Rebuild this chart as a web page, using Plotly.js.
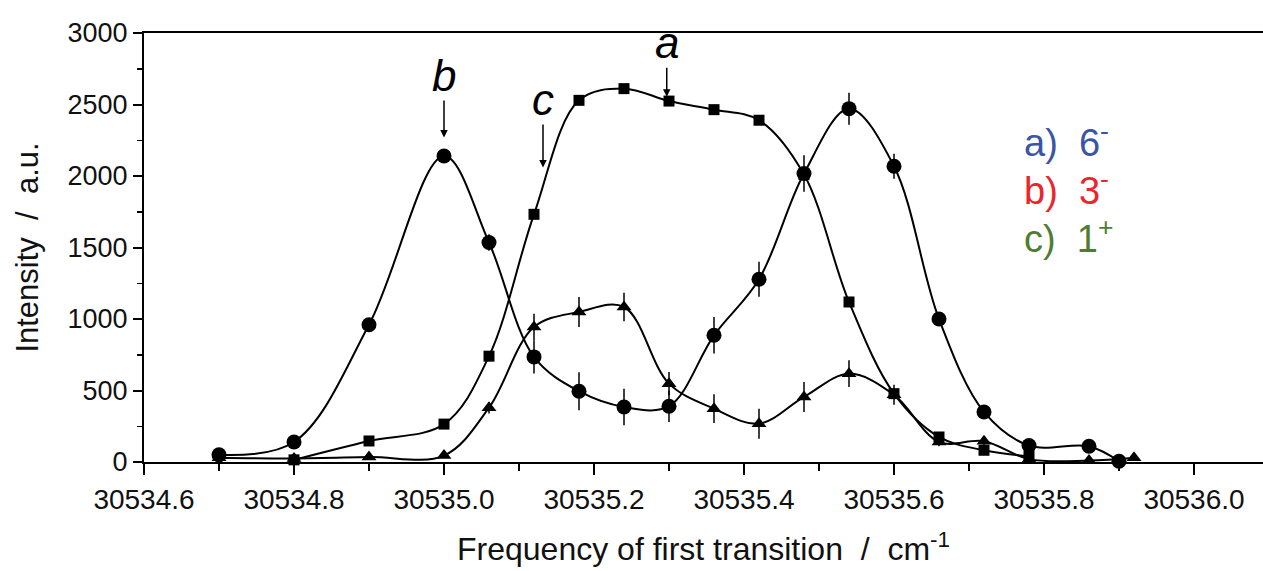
<!DOCTYPE html>
<html>
<head>
<meta charset="utf-8">
<script src="https://cdn.plot.ly/plotly-3.0.1.min.js"></script>
<style>html,body{margin:0;padding:0;background:#fff;}#chart{width:1263px;height:571px;}</style>
</head>
<body>
<div id="chart"></div>
<script>
// Series b) 3- : circles
const xCircle = [30534.7, 30534.8, 30534.9, 30535.0, 30535.06, 30535.12, 30535.18, 30535.24, 30535.30, 30535.36, 30535.42, 30535.48, 30535.54, 30535.60, 30535.66, 30535.72, 30535.78, 30535.86, 30535.90];
const yCircle = [50, 140, 960, 2140, 1535, 735, 495, 385, 390, 886, 1278, 2017, 2471, 2068, 1000, 350, 115, 110, 5];
const errCircle = [0, 0, 0, 40, 58, 116, 133, 128, 110, 128, 122, 128, 112, 87, 0, 0, 0, 0, 0];

// Series a) 6- : squares
const xSquare = [30534.8, 30534.9, 30535.0, 30535.06, 30535.12, 30535.18, 30535.24, 30535.30, 30535.36, 30535.42, 30535.48, 30535.54, 30535.60, 30535.66, 30535.72, 30535.78];
const ySquare = [15, 147, 265, 740, 1732, 2529, 2611, 2524, 2464, 2390, 2010, 1119, 478, 175, 82, 40];

// Series c) 1+ : triangles
const xTriangle = [30534.7, 30534.8, 30534.9, 30535.0, 30535.06, 30535.12, 30535.18, 30535.24, 30535.30, 30535.36, 30535.42, 30535.48, 30535.54, 30535.60, 30535.66, 30535.72, 30535.78, 30535.86, 30535.92];
const yTriangle = [30, 25, 35, 45, 380, 944, 1049, 1084, 548, 373, 268, 455, 618, 470, 140, 145, 20, 10, 30];
const errTriangle = [0, 0, 0, 0, 40, 93, 105, 100, 82, 100, 105, 105, 93, 70, 30, 30, 0, 0, 0];

// Labels
const xTitle = 'Frequency of first transition  /  cm<sup>-1</sup>';
const yTitle = 'Intensity  /  a.u.';
const legendLabels = ['a)  6<sup>-</sup>', 'b)  3<sup>-</sup>', 'c)  1<sup>+</sup>'];
const legendColors = ['#3b55a6', '#e8262b', '#4e7d31'];
const peakLabels = ['b', 'c', 'a'];
const peakX = [30535.0, 30535.132, 30535.297];
const peakY = [2270, 2060, 2555];

const FONT = 'Liberation Sans, Arial, sans-serif';

function series(x, y, err, symbol, size) {
  const t = {
    x: x, y: y, type: 'scatter', mode: 'lines+markers', cliponaxis: false,
    line: {color: '#000', width: 2, shape: 'spline', smoothing: 1},
    marker: {symbol: symbol, size: size, color: '#000'},
    showlegend: false, hoverinfo: 'x+y'
  };
  if (err) t.error_y = {type: 'data', array: err, visible: true, color: '#000', thickness: 1.5, width: 0};
  return t;
}

const data = [
  series(xSquare, ySquare, null, 'square', 11),
  series(xTriangle, yTriangle, errTriangle, 'triangle-up', 13),
  series(xCircle, yCircle, errCircle, 'circle', 15)
];

const annotations = [];
legendLabels.forEach((t, i) => {
  annotations.push({
    xref: 'paper', yref: 'paper', x: 0.785, y: [0.751, 0.639, 0.527][i],
    xanchor: 'left', yanchor: 'middle', showarrow: false, text: t,
    font: {family: FONT, size: 38, color: legendColors[i]}
  });
});
const ays = [-62, -68, -54];
peakLabels.forEach((t, i) => {
  annotations.push({
    x: peakX[i], y: peakY[i], xref: 'x', yref: 'y', text: '<i>' + t + '</i>',
    showarrow: true, ax: 0, ay: ays[i], arrowhead: 2, arrowsize: 1, arrowwidth: 1.5, arrowcolor: '#000',
    font: {family: FONT, size: 44, color: '#000'}, borderpad: 0
  });
});

const layout = {
  width: 1263, height: 571,
  margin: {l: 144, r: 0, t: 33, b: 109},
  paper_bgcolor: '#fff', plot_bgcolor: '#fff',
  font: {family: FONT, color: '#111'},
  xaxis: {
    range: [30534.6, 30536.092], tick0: 30534.6, dtick: 0.2, tickformat: '.1f',
    showgrid: false, zeroline: false, showline: true, mirror: true, linecolor: '#000', linewidth: 2,
    ticks: 'outside', ticklen: 11, tickwidth: 2, tickcolor: '#000',
    minor: {dtick: 0.1, ticks: 'outside', ticklen: 7, tickwidth: 1.5, tickcolor: '#000'},
    tickfont: {family: FONT, size: 28, color: '#111'},
    title: {text: xTitle, font: {family: FONT, size: 32, color: '#111'}, standoff: 24}
  },
  yaxis: {
    range: [0, 3000], dtick: 500,
    showgrid: false, zeroline: false, showline: true, linecolor: '#000', linewidth: 2,
    ticks: 'outside', ticklen: 9, tickwidth: 2, tickcolor: '#000',
    minor: {dtick: 250, ticks: 'outside', ticklen: 5, tickwidth: 1.5, tickcolor: '#000'},
    tickfont: {family: FONT, size: 27, color: '#111'},
    title: {text: yTitle, font: {family: FONT, size: 31, color: '#111'}, standoff: 20}
  },
  annotations: annotations
};

Plotly.newPlot('chart', data, layout, {displayModeBar: false, staticPlot: true});
</script>
</body>
</html>
